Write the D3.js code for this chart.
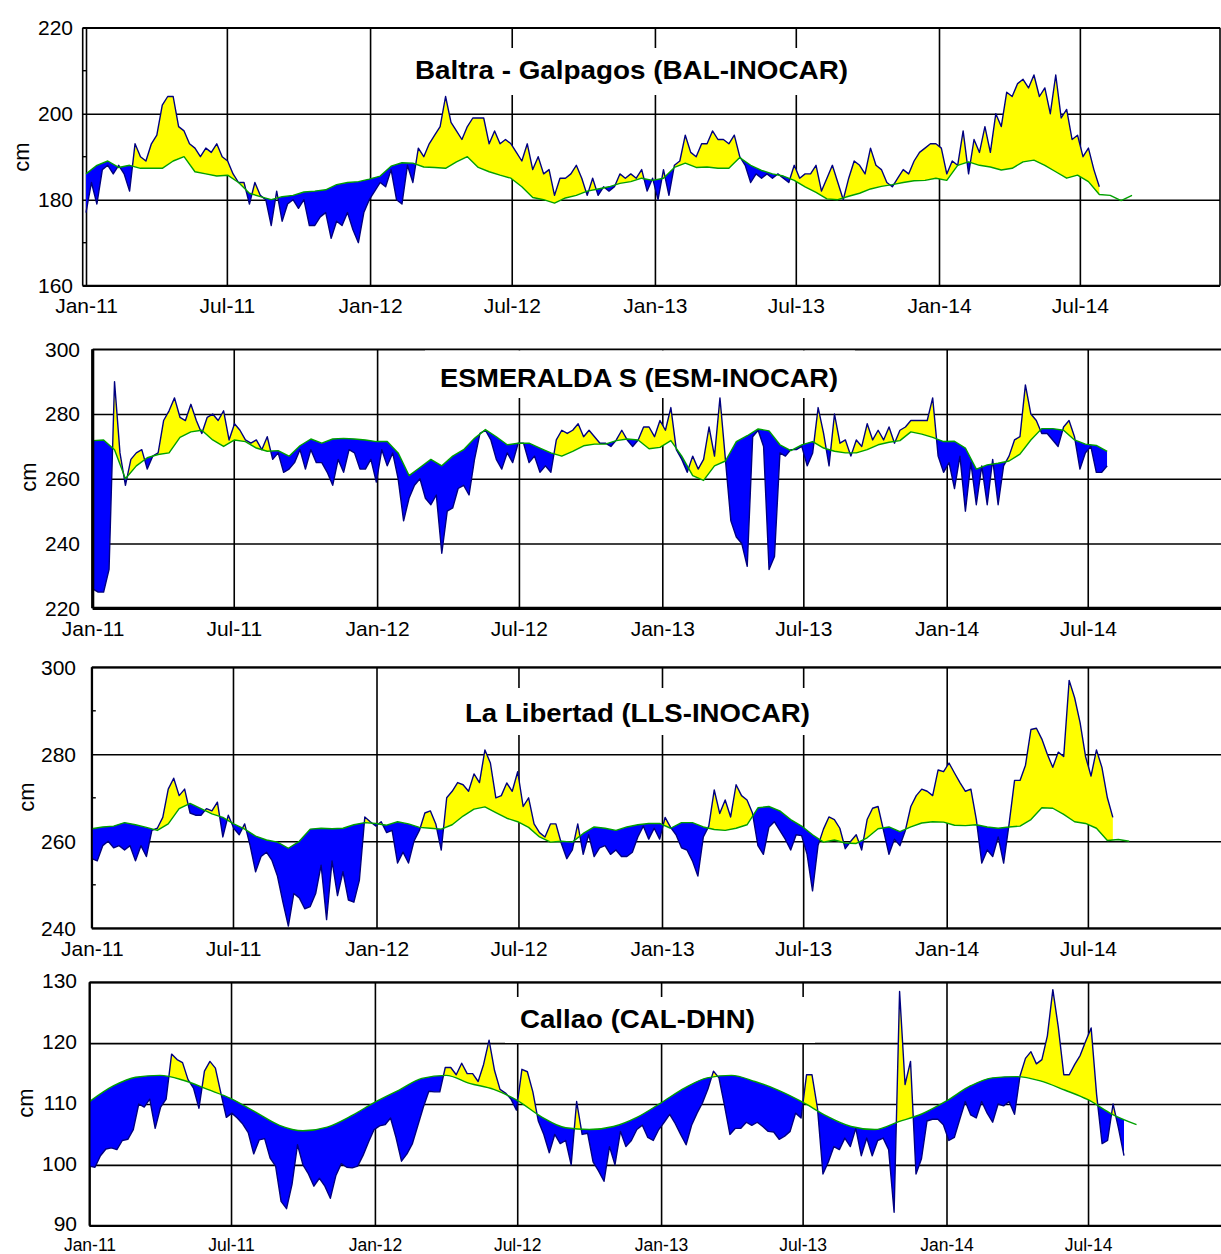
<!DOCTYPE html>
<html>
<head>
<meta charset="utf-8">
<script src="https://cdn.jsdelivr.net/npm/d3@7"></script>
<style>
  body { margin: 0; background: #fff; }
  svg { display: block; }
  text { font-family: "Liberation Sans", Arial, sans-serif; fill: #000; }
</style>
</head>
<body>
<svg id="chart" width="1221" height="1254"></svg>
<script>
// ---------------------------------------------------------------
// Sea level at four tide gauges, 2011-2014 (cm).
// Observed series: one value per week starting 1 Jan 2011.
// Climatology: Baltra / Esmeraldas / La Libertad every 14 days,
// Callao once a month, all starting 1 Jan 2011.
// ---------------------------------------------------------------

const balObs = [
  177,184,179,187,188,186,188,186,182,193, 190,189,193,195,202,204,204,197,196,193,
  192,190,192,191,193,190,189,186,184,184, 179,184,181,180,174,182,175,179,180,178,
  180,174,174,176,177,171,175,174,177,173, 170,177,180,182,184,183,187,180,179,188,
  184,192,190,193,195,197,204,198,196,194, 197,199,199,199,193,196,193,194,193,191,
  189,193,187,190,186,187,181,185,185,186, 188,185,181,185,181,183,182,183,186,185,
  186,185,187,182,185,180,187,181,188,189, 195,191,190,193,193,196,194,194,193,195,
  190,188,184,186,185,186,185,186,185,184, 188,185,186,186,188,182,185,188,184,180,
  185,189,188,186,192,188,187,184,183,185, 187,186,189,191,192,193,193,192,186,189,
  188,196,186,194,191,197,191,200,197,205, 204,207,208,206,209,204,206,200,209,199,
  201,194,195,190,192,187,183
];
const balClim = [
  186,188,189,187.5,188,187.3,187.3,187.3,189,190, 186.5,186,185.5,185.7,184,181.5,180.7,180,180.7,181,
  181.8,182,182.3,183.5,184,184.2,184.8,185.5,187.8,188.6, 188.5,187.6,187.5,187.3,188.8,190,187.5,186.5,185.7,185,
  183,180.5,180,179.2,180.4,181,182,182.5,183,183.8, 184.2,185,184.5,185,187.5,188.5,187.5,187.6,187.3,187.3,
  189.8,188,186.8,186,185.5,184.5,183,181.7,180.2,180, 180.8,181.5,182.5,183.1,183.5,184,184.4,184.5,185,184.5,
  188,188.8,188,187.6,186.9,187.3,188.8,189.2,188,186.5, 185,185.7,184.2,181.2,181,179.8,181
];

const esmObs = [
  226,225,225,232,290,268,258,266,268,269, 263,267,268,278,281,285,279,278,283,278,
  274,279,280,278,281,272,277,275,272,271, 272,269,273,266,268,262,263,265,269,263,
  269,265,265,262,258,266,262,269,268,263, 263,266,259,269,264,268,260,247,254,258,
  260,254,252,255,237,250,251,257,258,255, 266,274,275,272,266,263,268,265,271,271,
  265,267,262,264,262,272,275,274,275,277, 273,275,273,271,271,270,272,275,272,270,
  272,276,276,273,278,275,282,269,266,262, 267,263,266,276,267,285,266,247,242,240,
  233,273,275,270,232,236,268,267,269,269, 270,264,268,282,274,264,280,271,272,267,
  272,270,277,272,275,272,276,271,275,276, 278,278,278,278,285,267,262,265,257,267,
  250,265,252,264,252,266,252,264,267,272, 273,289,280,278,274,274,272,270,276,278,
  273,263,268,270,262,262,264
];
const esmClim = [
  271.8,272,269,260,264,266.5,267.5,268,272.8,274.5, 275,272,270,272,271.5,269.5,268.5,268.7,267,270.2,
  272.3,271,272.3,272.5,272.3,272,271.5,271.5,268,261, 263.5,266,264,267,269,272.5,275.2,273,270.5,271,
  271,269.5,268,267,268.5,270.2,270.7,270.7,271.8,272.3, 272,269.3,269.7,271.8,267,261,259.5,264,265.5,271.5,
  273.3,275.4,274.8,270.5,268.7,270.5,271.5,269.5,268.5,268, 268,269,270.5,271.3,271.8,274.5,273.8,272.8,271.5,271.6,
  269.5,263,264.3,264.8,265.5,267.6,272,275.5,275.5,275, 272,270.7,270.3,268.5
];

const llsObs = [
  256,255.5,259,260,258.5,259,258,259,255.5,259, 256.5,262.5,263,265.5,272,274.5,270.5,272,266.5,266,
  266,267.5,267,269,261,266,263,261.5,264,259, 253,256.5,257.5,255.6,252,246,240.5,248,247,244.5,
  245,248,254.5,242,255.5,247.5,253,246.5,246,251, 265.6,264.5,263.5,264.5,262,262.5,255,257.5,255,260,
  262.5,266.5,267,264,258,270,271.5,273.5,273,271.5, 275.5,273.5,281,278,270,270.5,273.4,271.5,276,268,
  270,264,262,261,264,264,259.5,256,258,264, 257,261.5,256.5,258.5,259,257,258,256.5,256.5,257.5,
  261,263.5,260.5,263,260.5,265.5,263.2,261.5,258.5,258, 255.5,252,261,263.5,271.8,266.4,269.5,265.6,273,270.5,
  269.5,266.5,259,257,263.2,264.5,262.5,260.5,258,261.5, 261.3,257,248.6,259,262.8,265.6,265,263,258.3,260,
  261.5,258,265,267.6,268,262.5,257,260.5,259,262.5, 268,270.5,272,271.5,270.5,276.4,276,278,275.7,273.5,
  271.5,272,265,255,258,256.5,261,255,264,274, 274,277.5,285.7,286,283.5,280,277,280.5,279.5,297,
  293,287.3,279.5,275,281,277,270,265.5
];
const llsClim = [
  262.9,263.3,263.5,264.3,263.8,263.2,262.5,264,267.5,268.7, 267.5,266.3,265.5,264,262.8,261.2,260.3,259.8,258.4,260,
  262.8,263,262.9,263,263.8,264.3,264.1,263.7,264.5,264, 263.2,263,262.8,263.8,265.8,267.4,267.9,266.6,265.3,264.5,
  263.2,261,259.8,260,259.8,261.8,263.3,263,262.5,263.3, 263.8,264.1,264.1,263,264.3,264.3,263.3,262.7,262.5,263,
  263.8,267.7,268,267,265,263.5,261.5,259.8,260.3,259.6, 259.5,260.8,262.9,263.3,262.2,263.3,264.2,264.5,264.4,263.7,
  263.6,263.8,263.3,263,263.3,263.5,265,267.7,267.6,266.2, 264.5,264.1,263,260.2,260.4,260
];

const calObs = [
  99.8,99.6,101.5,102.6,102.8,102.5,104,104.2,105.8,110, 109.5,110.8,106,109.5,110.8,118.2,117.3,116.8,114,112.6,
  109.3,115.4,117,115.9,111.8,107.8,108.5,107.7,106.7,105.3, 101.8,104.1,104.3,101.1,99.8,94,92.8,96.8,103.3,100,
  98.5,96.5,97.8,96.5,94.5,98.2,100.2,99.6,99.5,99.8, 101.6,103.8,105.8,106.4,106.6,107.7,104.5,100.6,101.8,103.5,
  106.5,109.5,112.1,112,112,116,116,114.8,116.7,115, 115,113.7,116.5,120.5,115.5,112.4,111.8,110.8,109,115.7,
  115.3,112,107.2,105,102,105,103.5,104,100,110.4, 105,105.2,100.5,99,97.3,103,100,105.5,103,104,
  105.8,106.5,104.5,104,105.8,107,108.3,106.8,105,103.3, 106.5,108.5,110.2,112.5,115.4,114.3,109.8,105,106,106,
  107,106.5,107,106.3,105.5,105.4,104.2,104.7,105.5,108.5, 107.7,114.8,114.8,109.3,98.5,100.5,103,102.5,104.4,103,
  106,101.5,104.4,101.5,104,104.4,102.5,92.2,128.5,113.2, 117,98.5,101,107.2,107.5,107.5,106.6,104,104.5,107.5,
  110.4,108.2,107.7,110.4,108.5,107,110,109.7,110.4,108.3, 114.6,117.5,118.6,116.6,117.3,121.2,128.8,122.6,114.8,114.8,
  116.5,118,120.3,122.5,111.5,103.5,104,110,106,101.5
];
const calClim = [
  110.4,113,114.4,114.7,113.9,112.4,110.9,108.7,106.5,105.6,106.2,108,
  110.3,112.3,114.2,114.7,113.4,112.4,110.6,107.9,106.1,105.8,106.3,107.8,
  110.2,112.7,114.3,114.7,113.7,112.2,110.3,108,106.3,105.8,107.1,108.4,
  110.5,113,114.3,114.5,113.8,112.3,110.7,108.3,106.6
];

// Axis ticks
const xTickLabels = ["Jan-11","Jul-11","Jan-12","Jul-12","Jan-13","Jul-13","Jan-14","Jul-14"];
const balTicks = [160, 180, 200, 220], balMinor = [170, 190, 210];
const esmTicks = [220, 240, 260, 280, 300], esmMinor = [];
const llsTicks = [240, 260, 280, 300], llsMinor = [250, 270, 290];
const calTicks = [90, 100, 110, 120, 130], calMinor = [];

// ---------------------------------------------------------------
const T0 = new Date(2011, 0, 1);
const T3 = new Date(2014, 0, 1);
const weekly   = a => a.map((v, i) => ({ date: d3.timeDay.offset(T0, 7 * i),  value: v }));
const biweekly = a => a.map((v, i) => ({ date: d3.timeDay.offset(T0, 14 * i), value: v }));
const monthly  = a => a.map((v, i) => ({ date: d3.timeMonth.offset(T0, i),    value: v }));
const xTickDates = xTickLabels.map((_, i) => d3.timeMonth.offset(T0, 6 * i));

const panels = [
  { key: "bal", title: "Baltra - Galpagos (BAL-INOCAR)",
    obs: weekly(balObs), clim: biweekly(balClim), curve: d3.curveLinear,
    yDomain: [160, 220], yTicks: balTicks, yMinor: balMinor,
    left: 82.7, right: 1220, top: 27.7, bottom: 285.7, xAt: [86, 939],
    lw: { left: 1.6, bottom: 2, top: 1.6, right: 1.6 },
    tBox: [400, 48, 470, 47], tX: 631.5, tY: 79, tW: 433,
    yLabX: 73, yLabDy: "0.32em", cm: [21, 157], xLabY: 313, xLabSize: 21 },
  { key: "esm", title: "ESMERALDA S (ESM-INOCAR)",
    obs: weekly(esmObs), clim: biweekly(esmClim), curve: d3.curveLinear,
    yDomain: [220, 300], yTicks: esmTicks, yMinor: esmMinor,
    left: 92.7, right: 1260, top: 349.3, bottom: 608.3, xAt: [92.7, 946.7],
    lw: { left: 3.2, bottom: 3.2, top: 1.6, right: 1.6 },
    tBox: [425, 350.5, 430, 47.5], tX: 639, tY: 386.7, tW: 398,
    yLabX: 80, yLabDy: "0.32em", cm: [28, 477], xLabY: 636, xLabSize: 21 },
  { key: "lls", title: "La Libertad (LLS-INOCAR)",
    obs: weekly(llsObs), clim: biweekly(llsClim), curve: d3.curveLinear,
    yDomain: [240, 300], yTicks: llsTicks, yMinor: llsMinor,
    left: 91.8, right: 1260, top: 667.3, bottom: 928.3, xAt: [91.8, 946.7],
    lw: { left: 2, bottom: 2, top: 2, right: 2 },
    tBox: [455, 688, 365, 47], tX: 637.5, tY: 721.7, tW: 345,
    yLabX: 76, yLabDy: "0.32em", cm: [26, 797], xLabY: 956, xLabSize: 21 },
  { key: "cal", title: "Callao (CAL-DHN)",
    obs: weekly(calObs), clim: monthly(calClim), curve: d3.curveMonotoneX,
    yDomain: [90, 130], yTicks: calTicks, yMinor: calMinor,
    left: 89.5, right: 1260, top: 982.3, bottom: 1225.7, xAt: [89.5, 946.5],
    lw: { left: 2, bottom: 2, top: 2, right: 2 },
    tBox: [505, 997, 310, 46], tX: 637.5, tY: 1028.3, tW: 235,
    yLabX: 77, yLabDy: "0.25em", cm: [25, 1103], xLabY: 1251, xLabSize: 17.5 }
];

const svg = d3.select("#chart");
const defs = svg.append("defs");

panels.forEach(p => {
  const x = d3.scaleTime().domain([T0, T3]).range(p.xAt);
  const y = d3.scaleLinear().domain(p.yDomain).range([p.bottom, p.top]);
  const w = p.right - p.left, h = p.bottom - p.top;
  const g = svg.append("g").attr("class", "panel-" + p.key);

  // plot-area clip
  defs.append("clipPath").attr("id", "plot-" + p.key)
    .append("rect").attr("x", p.left).attr("y", p.top).attr("width", w).attr("height", h);

  // y grid + labels
  const yAxis = d3.axisLeft(y).tickValues(p.yTicks).tickFormat(d3.format("d"))
    .tickSize(-w).tickPadding(p.left - p.yLabX);
  const gy = g.append("g").attr("transform", `translate(${p.left},0)`).call(yAxis);
  gy.select(".domain").remove();
  gy.selectAll(".tick line").attr("stroke", "#000").attr("stroke-width", 1.6);
  gy.selectAll(".tick text").attr("font-size", 21).attr("fill", "#000").attr("dy", p.yLabDy)
    .attr("font-family", "'Liberation Sans', Arial, sans-serif");

  // x grid + labels
  const xAxis = d3.axisBottom(x).tickValues(xTickDates)
    .tickFormat((d, i) => xTickLabels[i]).tickSize(-h).tickPadding(0);
  const gx = g.append("g").attr("transform", `translate(0,${p.bottom})`).call(xAxis);
  gx.select(".domain").remove();
  gx.selectAll(".tick line").attr("stroke", "#000").attr("stroke-width", 1.6);
  gx.selectAll(".tick text").attr("font-size", p.xLabSize).attr("fill", "#000")
    .attr("font-family", "'Liberation Sans', Arial, sans-serif")
    .attr("y", p.xLabY - p.bottom).attr("dy", null);

  // white box behind the station name
  g.append("rect").attr("x", p.tBox[0]).attr("y", p.tBox[1])
    .attr("width", p.tBox[2]).attr("height", p.tBox[3]).attr("fill", "#fff");

  // anomaly fills: yellow above climatology, blue below it
  const above = d3.area().curve(p.curve).x(d => x(d.date)).y0(p.top).y1(d => y(d.value));
  const below = d3.area().curve(p.curve).x(d => x(d.date)).y0(p.bottom).y1(d => y(d.value));
  defs.append("clipPath").attr("id", "above-" + p.key).append("path").attr("d", above(p.clim));
  defs.append("clipPath").attr("id", "below-" + p.key).append("path").attr("d", below(p.clim));

  const data = g.append("g").attr("clip-path", `url(#plot-${p.key})`);
  const obsDown = d3.area().x(d => x(d.date)).y0(p.bottom).y1(d => y(d.value));
  const obsUp = d3.area().x(d => x(d.date)).y0(p.top).y1(d => y(d.value));
  data.append("g").attr("clip-path", `url(#above-${p.key})`)
    .append("path").attr("d", obsDown(p.obs)).attr("fill", "#ffff00");
  data.append("g").attr("clip-path", `url(#below-${p.key})`)
    .append("path").attr("d", obsUp(p.obs)).attr("fill", "#0000ff");

  // observed series and climatology
  data.append("path").attr("d", d3.line().x(d => x(d.date)).y(d => y(d.value))(p.obs))
    .attr("fill", "none").attr("stroke", "#000080").attr("stroke-width", 1.4)
    .attr("stroke-linejoin", "round");
  data.append("path").attr("d", d3.line().curve(p.curve).x(d => x(d.date)).y(d => y(d.value))(p.clim))
    .attr("fill", "none").attr("stroke", "#00a000").attr("stroke-width", 1.4)
    .attr("stroke-linejoin", "round");

  // frame
  const fr = g.append("g").attr("stroke", "#000");
  fr.append("line").attr("x1", p.left).attr("x2", p.right).attr("y1", p.top).attr("y2", p.top).attr("stroke-width", p.lw.top);
  fr.append("line").attr("x1", p.left).attr("x2", p.right).attr("y1", p.bottom).attr("y2", p.bottom).attr("stroke-width", p.lw.bottom);
  fr.append("line").attr("x1", p.left).attr("x2", p.left).attr("y1", p.top).attr("y2", p.bottom).attr("stroke-width", p.lw.left);
  fr.append("line").attr("x1", p.right).attr("x2", p.right).attr("y1", p.top).attr("y2", p.bottom).attr("stroke-width", p.lw.right);
  fr.selectAll(".minor").data(p.yMinor).join("line").attr("class", "minor")
    .attr("x1", p.left).attr("x2", p.left + 4).attr("y1", d => y(d)).attr("y2", d => y(d))
    .attr("stroke-width", 1.4);

  // station name
  g.append("text").attr("x", p.tX).attr("y", p.tY).attr("text-anchor", "middle")
    .attr("font-size", 25).attr("font-weight", "bold")
    .attr("textLength", p.tW).attr("lengthAdjust", "spacingAndGlyphs")
    .text(p.title);

  // unit label
  g.append("text").attr("transform", `translate(${p.cm[0]},${p.cm[1]}) rotate(-90)`)
    .attr("text-anchor", "middle").attr("dy", "0.35em").attr("font-size", 22).text("cm");
});
</script>
</body>
</html>
